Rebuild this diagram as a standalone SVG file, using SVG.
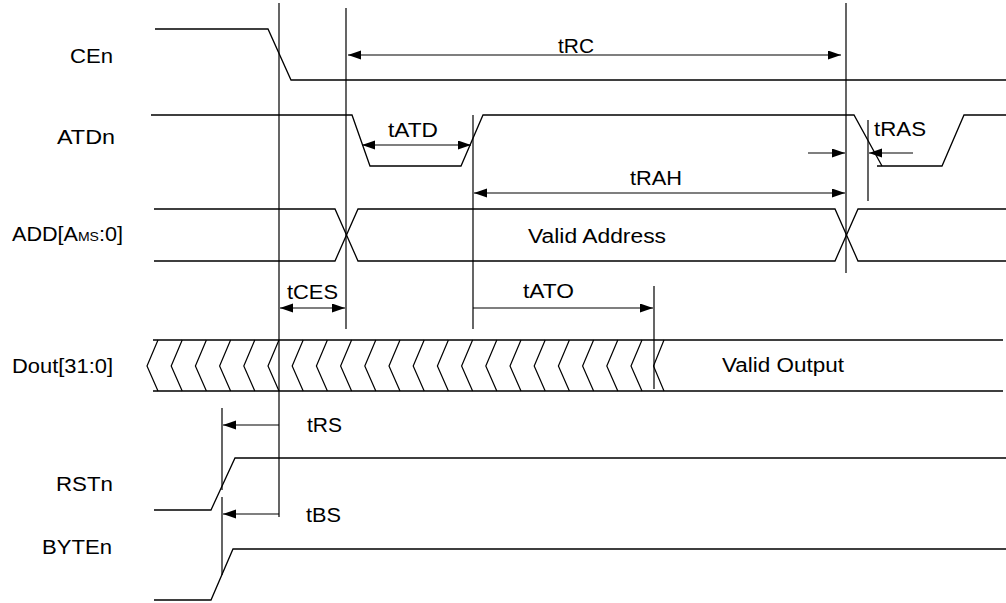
<svg xmlns="http://www.w3.org/2000/svg" width="1006" height="603" viewBox="0 0 1006 603">
<style>
.w{fill:none;stroke:#000;stroke-width:1.3;stroke-linejoin:miter}
.g{fill:none;stroke:#000;stroke-width:1.2}
.a{fill:none;stroke:#000;stroke-width:1.2}
.t{font-family:"Liberation Sans",Arial,sans-serif;font-size:20px;fill:#000}
.s{font-size:13px}
</style>
<defs>
<marker id="ah" markerUnits="userSpaceOnUse" markerWidth="14" markerHeight="10" refX="13" refY="4.5" orient="auto-start-reverse">
<path d="M0,0 L13,4.5 L0,9 z" fill="#000"/>
</marker>
</defs>
<rect width="1006" height="603" fill="#fff"/>

<g id="cen">
<text class="t" x="70" y="63" textLength="43" lengthAdjust="spacingAndGlyphs">CEn</text>
<path class="w" d="M155,29 H268 L291,80 H1006"/>
</g>

<g id="atdn">
<text class="t" x="57" y="144" textLength="58" lengthAdjust="spacingAndGlyphs">ATDn</text>
<path class="w" d="M151,115 H352 L370,166 H461 L483,115 H854 L882,166"/>
<path class="w" d="M877,166 H942 L964,115 H1006"/>
</g>

<g id="add">
<text class="t" x="12" y="241" textLength="111" lengthAdjust="spacingAndGlyphs">ADD[A<tspan class="s">MS</tspan>:0]</text>
<path class="w" d="M154,209 H335 L358,261 H835 L858,209 H1006"/>
<path class="w" d="M154,261 H335 L358,209 H835 L858,261 H1006"/>
<text class="t" x="528" y="243" textLength="138" lengthAdjust="spacingAndGlyphs">Valid Address</text>
</g>

<g id="dout">
<text class="t" x="12" y="373" textLength="101" lengthAdjust="spacingAndGlyphs">Dout[31:0]</text>
<path class="w" d="M153,340 H1003 M153,391 H1003"/>
<path class="g" d="M158,340 L147,366 L158,391 M182.2,340 L171.2,366 L182.2,391 M206.4,340 L195.4,366 L206.4,391 M230.6,340 L219.6,366 L230.6,391 M254.8,340 L243.8,366 L254.8,391 M279,340 L268,366 L279,391 M303.2,340 L292.2,366 L303.2,391 M327.4,340 L316.4,366 L327.4,391 M351.6,340 L340.6,366 L351.6,391 M375.8,340 L364.8,366 L375.8,391 M400,340 L389,366 L400,391 M424.2,340 L413.2,366 L424.2,391 M448.4,340 L437.4,366 L448.4,391 M472.6,340 L461.6,366 L472.6,391 M496.8,340 L485.8,366 L496.8,391 M521,340 L510,366 L521,391 M545.2,340 L534.2,366 L545.2,391 M569.4,340 L558.4,366 L569.4,391 M593.6,340 L582.6,366 L593.6,391 M617.8,340 L606.8,366 L617.8,391 M642,340 L631,366 L642,391 M664,340 L653.5,366 L664,391"/>
<text class="t" x="722" y="372" textLength="122" lengthAdjust="spacingAndGlyphs">Valid Output</text>
</g>

<g id="rstn">
<text class="t" x="56" y="491" textLength="57" lengthAdjust="spacingAndGlyphs">RSTn</text>
<path class="w" d="M154,510 H211 L235,458 H1006"/>
</g>

<g id="byten">
<text class="t" x="42" y="554" textLength="70" lengthAdjust="spacingAndGlyphs">BYTEn</text>
<path class="w" d="M154,600 H211 L233,549 H1006"/>
</g>

<g id="connectors">
<path class="a" d="M279,3 V517 M346,8 V329 M473,115 V329 M846,3 V273 M868,120 V201 M654,286 V389 M222,408 V490 M222,497 V575"/>
<line class="a" x1="348" y1="55" x2="841" y2="55" marker-start="url(#ah)" marker-end="url(#ah)"/>
<line class="a" x1="362" y1="145" x2="471" y2="145" marker-start="url(#ah)" marker-end="url(#ah)"/>
<line class="a" x1="474" y1="193" x2="845" y2="193" marker-start="url(#ah)" marker-end="url(#ah)"/>
<line class="a" x1="808" y1="153" x2="845" y2="153" marker-end="url(#ah)"/>
<line class="a" x1="913" y1="153" x2="869" y2="153" marker-end="url(#ah)"/>
<line class="a" x1="280" y1="308" x2="345" y2="308" marker-start="url(#ah)" marker-end="url(#ah)"/>
<line class="a" x1="473" y1="308" x2="653" y2="308" marker-end="url(#ah)"/>
<line class="a" x1="279" y1="425" x2="223" y2="425" marker-end="url(#ah)"/>
<line class="a" x1="279" y1="514" x2="223" y2="514" marker-end="url(#ah)"/>
<text class="t" x="558" y="53" textLength="36" lengthAdjust="spacingAndGlyphs">tRC</text>
<text class="t" x="388" y="137" textLength="50" lengthAdjust="spacingAndGlyphs">tATD</text>
<text class="t" x="630" y="185" textLength="52" lengthAdjust="spacingAndGlyphs">tRAH</text>
<text class="t" x="874" y="136" textLength="52" lengthAdjust="spacingAndGlyphs">tRAS</text>
<text class="t" x="287" y="299" textLength="51" lengthAdjust="spacingAndGlyphs">tCES</text>
<text class="t" x="523" y="298" textLength="51" lengthAdjust="spacingAndGlyphs">tATO</text>
<text class="t" x="307" y="432" textLength="35" lengthAdjust="spacingAndGlyphs">tRS</text>
<text class="t" x="306" y="522" textLength="35" lengthAdjust="spacingAndGlyphs">tBS</text>
</g>
</svg>
